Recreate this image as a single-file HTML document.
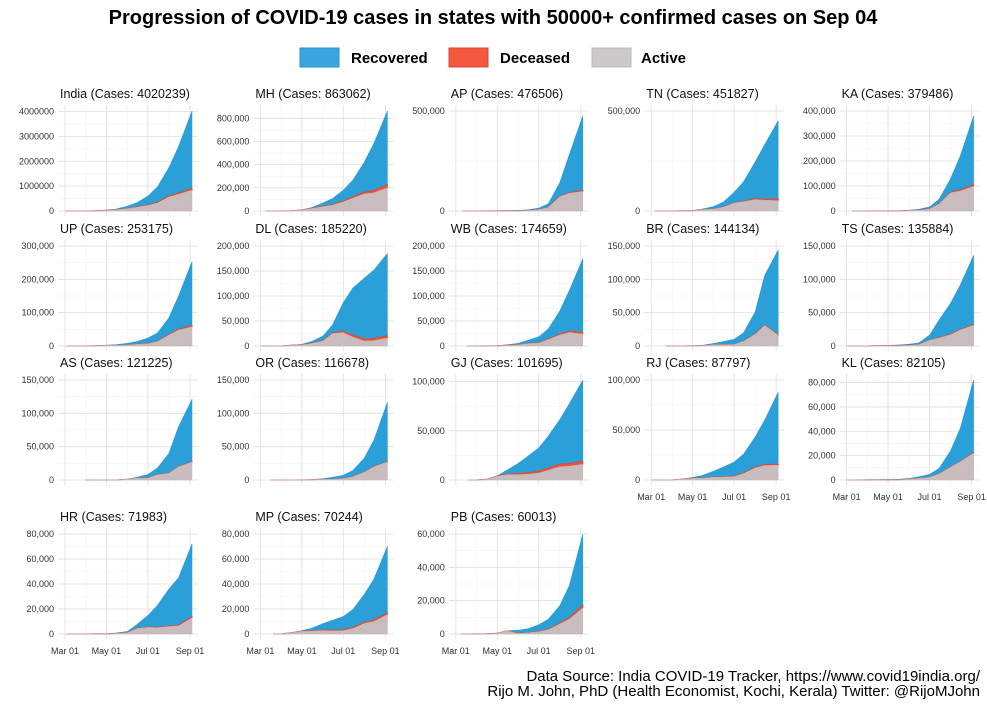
<!DOCTYPE html>
<html><head><meta charset="utf-8">
<style>
body{margin:0;background:#fff;}
svg{display:block;font-family:"Liberation Sans",Arial,sans-serif;}
</style></head>
<body>
<svg id="chart" width="987" height="705" viewBox="0 0 987 705">
<text x="493" y="24" text-anchor="middle" font-size="20" font-weight="bold" fill="#000">Progression of COVID-19 cases in states with 50000+ confirmed cases on Sep 04</text>
<g>
  <rect x="300" y="48" width="39" height="19" fill="#3aa6de" stroke="#2a90c8"/>
  <text x="351" y="63" font-size="15" font-weight="bold">Recovered</text>
  <rect x="449" y="48" width="39" height="19" fill="#f4593f" stroke="#d84a30"/>
  <text x="500" y="63" font-size="15" font-weight="bold">Deceased</text>
  <rect x="592" y="48" width="39" height="19" fill="#cbc9c9" stroke="#bbb"/>
  <text x="641" y="63" font-size="15" font-weight="bold">Active</text>
</g>
<g id="panels"></g>
<text x="980" y="681" text-anchor="end" font-size="15" fill="#000">Data Source: India COVID-19 Tracker, https://www.covid19india.org/</text>
<text x="980" y="696" text-anchor="end" font-size="15" fill="#000">Rijo M. John, PhD (Health Economist, Kochi, Kerala) Twitter: @RijoMJohn</text>
</svg>
<script>
const states = ["India","MH","AP","TN","KA","UP","DL","WB","BR","TS","AS","OR","GJ","RJ","KL","HR","MP","PB"];
const totalCases = [4020239,863062,476506,451827,379486,253175,185220,174659,144134,135884,121225,116678,101695,87797,82105,71983,70244,60013];
const startDay = [1,8,10,6,8,3,1,17,21,1,30,15,19,1,1,3,19,8];
// days since Mar 01
const sampleDays = [14,31,45,61,75,92,106,122,136,153,167,187];
const confirmed = [
 [110,1998,12000,35000,82000,198000,333000,605000,970000,1750000,2590000,4020239],
 [30,330,2900,10500,29100,70000,107000,180000,267000,422000,584000,863062],
 [0,87,500,1400,2300,3600,6100,14600,35500,140900,281800,476506],
 [1,124,1200,2300,10000,22300,44600,94000,147000,245000,332000,451827],
 [6,110,280,570,1000,3200,7000,16500,47000,129000,219000,379486],
 [12,110,735,2300,4000,8000,13600,24000,39000,85000,150000,253175],
 [7,150,1560,3500,8900,20000,42000,87000,116000,136000,152000,185220],
 [1,37,220,800,2400,5500,11500,18500,34000,70000,111000,174659],
 [0,20,66,470,1000,3900,6600,10000,20000,51000,106000,144134],
 [3,97,650,1040,1450,2700,4700,16300,39000,64000,91000,135884],
 [0,10,35,42,80,1400,4000,8400,18000,40000,80000,121225],
 [0,4,60,150,670,2000,4100,7000,14300,33000,60000,116678],
 [0,75,700,4400,9900,17000,24100,32600,44600,61400,77600,101695],
 [4,120,1000,2600,4500,8900,13000,18000,26000,43000,60000,87797],
 [24,265,390,500,580,1300,2600,4600,9500,24000,42000,82105],
 [0,35,210,300,800,2100,7700,14900,23000,36000,45000,71983],
 [0,90,1000,2700,4600,8300,11000,14000,19600,31800,44000,70244],
 [1,40,190,480,1950,2300,3100,5600,8800,17000,29000,60013]
];
const active = [
 [100,1800,10000,25000,50000,97000,153000,227000,320000,565000,670000,840000],
 [30,300,2500,8500,21500,38000,50000,79000,111000,148000,157000,200000],
 [0,85,480,1000,1000,1200,2600,7000,17500,72000,89000,98000],
 [1,120,1100,1000,7000,9800,19000,39800,47000,57000,54000,52000],
 [5,100,200,300,500,2000,2800,8100,28000,73000,80000,99000],
 [10,100,700,1700,1800,3100,5000,7000,13500,33000,48000,58000],
 [6,140,1500,2300,5000,10000,25000,27000,18000,10000,10700,16000],
 [1,30,150,600,1300,2300,4800,5900,13000,22000,27000,24000],
 [0,19,40,370,600,2100,2000,2200,7000,17500,31000,16000],
 [3,90,550,550,500,1100,2000,8500,12000,17000,24000,31000],
 [0,10,30,10,40,1200,2700,2900,7800,10000,20000,27000],
 [0,4,40,90,450,950,1000,2100,5000,11500,20000,27000],
 [0,70,650,3800,5500,5500,5900,7000,10000,13500,14000,16000],
 [4,110,900,1600,1800,2800,3000,3400,6500,12000,14500,14800],
 [22,240,120,16,70,700,1300,2100,5000,10500,15000,22000],
 [0,30,150,100,400,1000,4500,5300,5100,6000,6500,13000],
 [0,90,900,2200,2300,2800,2500,2700,4400,8500,10000,15500],
 [1,35,150,380,1800,300,700,1400,2500,6000,9000,15600]
];
const deceased = [
 [2,58,400,1150,2650,5600,9500,17800,25000,37400,50000,70000],
 [0,16,190,460,1070,2360,3950,8050,10700,14900,19700,25900],
 [0,0,9,31,48,62,82,187,452,1281,2562,4347],
 [0,1,15,28,71,184,435,1260,2100,3900,5700,7700],
 [1,3,12,22,35,51,88,253,928,2400,3800,6200],
 [0,2,11,40,100,222,399,718,913,1630,2400,3700],
 [0,2,30,60,120,520,1400,2680,3450,3960,4200,4500],
 [0,3,12,33,220,320,480,680,980,1580,2350,3400],
 [0,0,1,3,7,23,40,70,170,300,500,700],
 [0,0,18,28,34,82,182,260,400,520,700,870],
 [0,0,1,1,2,4,8,12,45,100,200,340],
 [0,0,1,1,3,7,10,25,60,150,300,500],
 [0,6,33,214,606,1060,1500,1850,2080,2430,2720,3030],
 [0,0,14,58,125,198,300,415,500,700,900,1100],
 [0,2,2,4,4,10,20,25,35,75,150,320],
 [0,0,3,3,11,20,100,240,320,430,520,760],
 [0,6,50,140,250,360,470,590,680,830,1080,1500],
 [0,2,12,20,40,45,65,145,220,420,750,1600]
];
const yTop = [4020239,863062,500000,500000,400000,300000,200000,200000,150000,150000,150000,150000,101695,100000,82105,80000,80000,60000];
const yTicks = [
 [0,1000000,2000000,3000000,4000000],[0,200000,400000,600000,800000],[0,500000],[0,500000],[0,100000,200000,300000,400000],
 [0,100000,200000,300000],[0,50000,100000,150000,200000],[0,50000,100000,150000,200000],[0,50000,100000,150000],[0,50000,100000,150000],
 [0,50000,100000,150000],[0,50000,100000,150000],[0,50000,100000],[0,50000,100000],[0,20000,40000,60000,80000],
 [0,20000,40000,60000,80000],[0,20000,40000,60000,80000],[0,20000,40000,60000]
];
const xTickLabels = ["Mar 01","May 01","Jul 01","Sep 01"];
const xTickDays = [0,61,122,184];
const xMinorDays = [31,92,153];

const NS="http://www.w3.org/2000/svg";
const root=document.getElementById('panels');
const rowZero=[211,346,480,634];
function mk(tag,attrs,parent){const e=document.createElementNS(NS,tag);for(const k in attrs)e.setAttribute(k,attrs[k]);(parent||root).appendChild(e);return e;}
function fmt(v,i){return i===0?String(v):v.toLocaleString('en-US');}

states.forEach((st,i)=>{
  const r=Math.floor(i/5), c=i%5;
  const left=58+c*195.4, right=left+140;
  const zero=rowZero[r];
  const top=zero-106, bottom=zero+5;
  const xs=d=>left+7+d*(125/184);
  const ys=v=>zero-v*(100/yTop[i]);
  const g=mk('g',{});
  
  
  yTicks[i].forEach((t,k)=>{
    if(k>0){const m=(yTicks[i][k-1]+t)/2;const ml=mk('line',{x1:left,x2:right,y1:ys(m),y2:ys(m),stroke:'#f2f2f2','stroke-width':0.6},g);}
    const gl=mk('line',{x1:left,x2:right,y1:ys(t),y2:ys(t),stroke:'#dedede','stroke-width':0.8},g);
    
    
    const tl=mk('text',{x:left-4,y:ys(t)+3,'text-anchor':'end','font-size':9,fill:'#333'},g);
    tl.textContent=fmt(t,i);
    
    
  });
  xMinorDays.forEach(d=>{const l=mk('line',{x1:xs(d),x2:xs(d),y1:top,y2:bottom,stroke:'#f4f4f4','stroke-width':0.6},g);});
  xTickDays.forEach((d,k)=>{
    const l=mk('line',{x1:xs(d),x2:xs(d),y1:top,y2:bottom,stroke:'#dedede','stroke-width':0.8},g);
    
    
    const showX=(r===3)||(r===2&&c>=3);
    if(showX){const t=mk('text',{x:xs(d),y:bottom+15,'text-anchor':'middle','font-size':9,fill:'#333'},g);t.textContent=xTickLabels[k];
      
      }
  });
  const pts=[{d:startDay[i],a:0,dd:0,cf:0}];
  sampleDays.forEach((d,k)=>{if(d>startDay[i])pts.push({d:d,a:active[i][k],dd:deceased[i][k],cf:confirmed[i][k]});});
  const line=(f)=>pts.map(p=>xs(p.d).toFixed(1)+','+ys(f(p)).toFixed(1));
  const band=(lo,hi)=>'M'+line(hi).join('L')+'L'+line(lo).reverse().join('L')+'Z';
  const pR=mk('path',{d:band(p=>p.a+p.dd,p=>Math.max(p.cf,p.a+p.dd)),fill:'#2a9fd8',stroke:'#2196d3','stroke-width':0.5},g);
  
  
  const pD=mk('path',{d:band(p=>p.a,p=>p.a+p.dd),fill:'#e8553c',stroke:'#e04a30','stroke-width':1},g);
  
  
  const pA=mk('path',{d:band(p=>0,p=>p.a),fill:'#c8bcbc',stroke:'#bfb3b3','stroke-width':0.5},g);
  
  
  const tt=mk('text',{x:left+2,y:top-7,'font-size':12.5,fill:'#111'},g);
  tt.textContent=st+' (Cases: '+totalCases[i]+')';
  
  
});
</script>
</body></html>
